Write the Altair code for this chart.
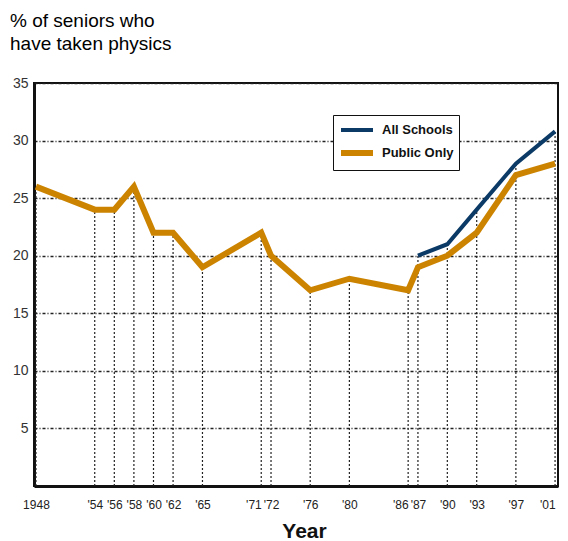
import altair as alt
import pandas as pd

# ---- data ----
years_public = [1948, 1954, 1956, 1958, 1960, 1962, 1965, 1971, 1972, 1976, 1980, 1986, 1987, 1990, 1993, 1997, 2001]
public_only = [26, 24, 24, 26, 22, 22, 19, 22, 20, 17, 18, 17, 19, 20, 22, 27, 28]
years_all = [1987, 1990, 1993, 1997, 2001]
all_schools = [20, 21, 24, 28, 30.8]
tick_years = years_public
tick_labels = ["1948", "'54", "'56", "'58", "'60", "'62", "'65", "'71", "'72", "'76", "'80",
               "'86", "'87", "'90", "'93", "'97", "'01"]
right_aligned_years = [1971, 1986, 2001]
series_names = ["All Schools", "Public Only"]
series_colors = ["#0b3a66", "#cc8400"]
y_ticks = [5, 10, 15, 20, 25, 30, 35]

rows = []
for y, v in zip(years_all, all_schools):
    rows.append({"year": y, "value": v, "series": "All Schools"})
for y, v in zip(years_public, public_only):
    rows.append({"year": y, "value": v, "series": "Public Only"})
df = pd.DataFrame(rows)

drop = df.groupby("year", as_index=False)["value"].max()
drop["base"] = 0

label_expr = " : ".join(
    [f"datum.value == {y} ? \"{l}\"" for y, l in zip(tick_years, tick_labels)] + ["''"]
)
align_test = " || ".join(f"datum.value == {y}" for y in right_aligned_years)

FONT = "Liberation Sans, Arial"

x_scale = alt.Scale(domain=[1947.8, 2001.3], nice=False, zero=False)
y_scale = alt.Scale(domain=[0, 35], nice=False)

x_axis = alt.Axis(
    values=tick_years,
    labelExpr=label_expr,
    labelOverlap=False,
    labelAlign={"condition": {"test": align_test, "value": "right"}, "value": "center"},
    grid=False,
    ticks=False,
    domain=True,
    domainColor="#111111",
    domainWidth=3,
    labelFontSize=12,
    labelFont=FONT,
    labelColor="#222222",
    labelPadding=13,
    title="Year",
    titleFont=FONT,
    titleFontSize=21,
    titleFontWeight="bold",
    titleColor="#111111",
    titleX=270,
    titlePadding=10,
)
y_axis = alt.Axis(
    values=y_ticks,
    grid=True,
    gridColor="#222222",
    gridWidth=1.5,
    gridDash=[3, 2, 1, 2],
    ticks=False,
    domain=True,
    domainColor="#111111",
    domainWidth=3,
    labelFontSize=14,
    labelFont=FONT,
    labelColor="#333333",
    labelPadding=6,
    title=None,
)

X = alt.X("year:Q", scale=x_scale, axis=x_axis)

drops = alt.Chart(drop).mark_rule(color="#222222", strokeWidth=1.2, strokeDash=[2, 2]).encode(
    x=X,
    y=alt.Y("base:Q", scale=y_scale, axis=y_axis),
    y2="value:Q",
)

lines = alt.Chart(df).mark_line(strokeJoin="miter").encode(
    x=X,
    y=alt.Y("value:Q", scale=y_scale, axis=y_axis),
    color=alt.Color(
        "series:N",
        scale=alt.Scale(domain=series_names, range=series_colors),
        legend=alt.Legend(
            title=None,
            orient="none",
            legendX=299,
            legendY=32,
            symbolType="M-1,0H3",
            symbolSize=256,
            symbolStrokeWidth=3,
            labelOffset=22,
            labelFont=FONT,
            labelFontSize=13,
            labelFontWeight="bold",
            labelColor="#111111",
            strokeColor="#111111",
            fillColor="white",
            padding=5,
            rowPadding=3,
        ),
    ),
    strokeWidth=alt.StrokeWidth(
        "series:N",
        scale=alt.Scale(domain=series_names, range=[4, 6]),
        legend=None,
    ),
    detail="series:N",
)

chart = (
    alt.layer(drops, lines)
    .properties(
        width=524,
        height=403,
        autosize=alt.AutoSizeParams(type="none"),
        padding={"left": 26, "top": 75, "right": 2, "bottom": 55},
        background="white",
        title=alt.TitleParams(
            text=["% of seniors who", "have taken physics"],
            anchor="start",
            frame="group",
            dx=-24,
            offset=22,
            fontSize=19,
            font="Liberation Sans, Arial",
            fontWeight="normal",
            color="#000000",
            lineHeight=23,
        ),
    )
    .configure_view(stroke="#111111", strokeWidth=2)
)

chart.save("out.html", embed_options={"renderer": "svg", "actions": False})
